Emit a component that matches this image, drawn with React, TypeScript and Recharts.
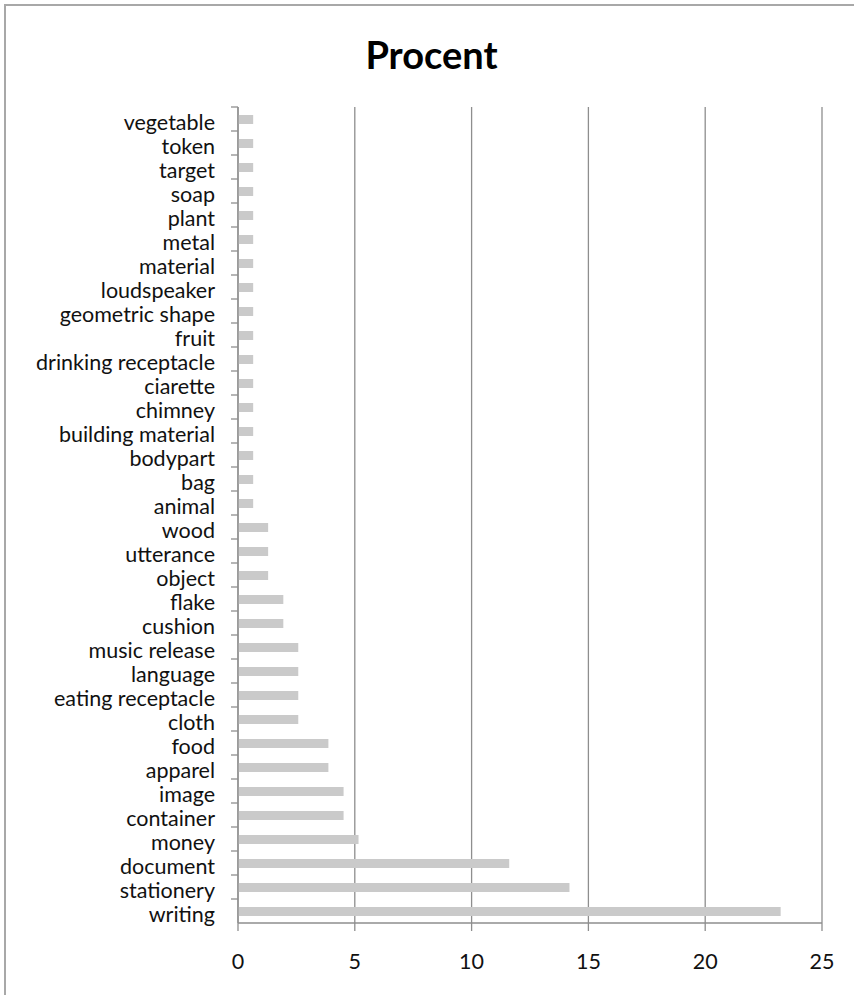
import React from 'react';
import { BarChart, Bar, XAxis, YAxis, CartesianGrid } from 'recharts';

// share of each category, in percent (count / 155)
const categories = [
  'vegetable', 'token', 'target', 'soap', 'plant', 'metal', 'material',
  'loudspeaker', 'geometric shape', 'fruit', 'drinking receptacle', 'ciarette',
  'chimney', 'building material', 'bodypart', 'bag', 'animal', 'wood',
  'utterance', 'object', 'flake', 'cushion', 'music release', 'language',
  'eating receptacle', 'cloth', 'food', 'apparel', 'image', 'container',
  'money', 'document', 'stationery', 'writing',
];
const procent = [
  0.65, 0.65, 0.65, 0.65, 0.65, 0.65, 0.65,
  0.65, 0.65, 0.65, 0.65, 0.65,
  0.65, 0.65, 0.65, 0.65, 0.65, 1.29,
  1.29, 1.29, 1.94, 1.94, 2.58, 2.58,
  2.58, 2.58, 3.87, 3.87, 4.52, 4.52,
  5.16, 11.61, 14.19, 23.23,
];
const xTicks = [0, 5, 10, 15, 20, 25];

const data = categories.map((name, i) => ({ name, value: procent[i] }));

const W = 854;
const H = 995;
const margin = { top: 107, right: 32, bottom: 42, left: 0 };
const yAxisWidth = 238;
const xAxisHeight = 30;
const plotH = H - margin.top - margin.bottom - xAxisHeight;
const band = plotH / categories.length;

const FONT = 'Lato, "Open Sans", sans-serif';
const GRID = '#8e8e8e';
const LABEL_SIZE = 21.5;

// category label centred in its band, tick mark on the band's upper edge
function CategoryTick(props: any) {
  const { x, y, payload } = props;
  const axisX = x + 8;
  const top = y - band / 2;
  return (
    <g>
      <line x1={axisX - 7} y1={top} x2={axisX} y2={top} stroke={GRID} strokeWidth={1.3} />
      <text
        x={axisX - 23}
        y={y + 2.5}
        textAnchor="end"
        dominantBaseline="central"
        fontFamily={FONT}
        fontSize={LABEL_SIZE}
        fill="#111"
      >
        {payload.value}
      </text>
    </g>
  );
}

export default function App() {
  return (
    <div style={styles.page}>
      <div style={styles.frame} />
      <div style={styles.title}>Procent</div>
      <BarChart width={W} height={H} data={data} layout="vertical" margin={margin}>
        <CartesianGrid horizontal={false} stroke={GRID} strokeWidth={1.3} />
        <XAxis
          type="number"
          domain={[0, 25]}
          ticks={xTicks}
          height={xAxisHeight}
          stroke={GRID}
          strokeWidth={1.3}
          tickSize={8}
          tickMargin={23}
          tick={{ fill: '#111', fontSize: LABEL_SIZE, fontFamily: FONT }}
        />
        <YAxis
          type="category"
          dataKey="name"
          width={yAxisWidth}
          stroke={GRID}
          strokeWidth={1.3}
          tickLine={false}
          tickSize={8}
          tickMargin={0}
          interval={0}
          tick={<CategoryTick />}
        />
        <Bar dataKey="value" fill="#cacaca" barSize={9} isAnimationActive={false} />
      </BarChart>
    </div>
  );
}

const styles: Record<string, React.CSSProperties> = {
  page: {
    position: 'absolute',
    left: 0,
    top: 0,
    width: W,
    height: H,
    background: '#fff',
    overflow: 'hidden',
  },
  frame: {
    position: 'absolute',
    left: 4,
    top: 4,
    right: 0,
    bottom: 0,
    borderTop: '2px solid #a8a8a8',
    borderLeft: '2px solid #a8a8a8',
    pointerEvents: 'none',
  },
  title: {
    position: 'absolute',
    left: 0,
    width: 863,
    top: 31,
    textAlign: 'center',
    fontFamily: FONT,
    fontWeight: 700,
    fontSize: 38,
    color: '#000',
  },
};
